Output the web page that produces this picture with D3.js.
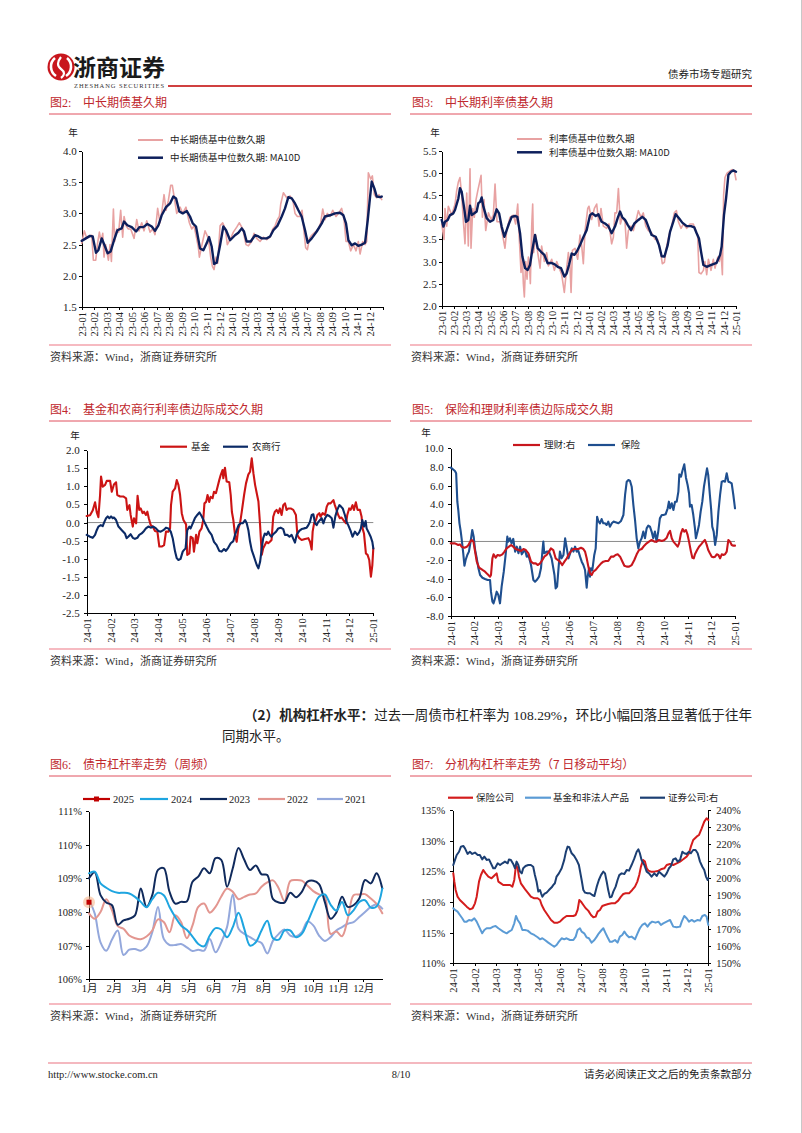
<!DOCTYPE html>
<html><head><meta charset="utf-8">
<script src="https://cdn.jsdelivr.net/npm/d3@7"></script>
<style>
body{margin:0;background:#fff;}
svg{display:block;}
text{font-family:"Liberation Serif","Noto Sans CJK SC",serif;fill:#222;}
.axis path,.axis line{stroke:#000;stroke-width:1;shape-rendering:crispEdges;}
.axis text{font-family:"Liberation Serif","Noto Sans CJK SC",serif;fill:#222;}
</style></head><body>
<script>
// ---------------- DATA ----------------
const labels2324 = ["23-01","23-02","23-03","23-04","23-05","23-06","23-07","23-08","23-09","23-10","23-11","23-12","24-01","24-02","24-03","24-04","24-05","24-06","24-07","24-08","24-09","24-10","24-11","24-12","25-01"];
const labels24 = ["24-01","24-02","24-03","24-04","24-05","24-06","24-07","24-08","24-09","24-10","24-11","24-12","25-01"];
const monthLabels = ["1月","2月","3月","4月","5月","6月","7月","8月","9月","10月","11月","12月"];

// Fig 2: [months since 2023-01, years]
const fig2Raw = [[0,2.52],[0.21,2.72],[0.40,2.60],[0.66,2.63],[0.80,2.65],[0.93,2.25],[1.12,2.25],[1.25,2.50],[1.41,2.70],[1.54,2.55],[1.68,2.68],[1.78,2.30],[1.91,2.50],[2.13,2.25],[2.26,2.50],[2.37,2.23],[2.53,3.07],[2.63,2.55],[2.79,2.75],[2.95,2.70],[3.11,3.05],[3.27,2.62],[3.38,2.95],[3.54,2.80],[3.72,2.75],[3.91,2.75],[4.18,2.60],[4.39,2.90],[4.57,2.72],[4.79,2.85],[4.97,2.72],[5.19,2.88],[5.45,2.70],[5.66,2.75],[5.85,2.66],[6.06,3.08],[6.25,2.85],[6.41,3.05],[6.57,3.30],[6.73,3.05],[6.91,3.20],[7.10,3.45],[7.23,3.45],[7.39,3.25],[7.58,3.00],[7.85,3.10],[8.06,3.00],[8.32,3.10],[8.59,2.85],[8.78,2.75],[8.96,2.80],[9.12,2.65],[9.31,2.45],[9.39,2.30],[9.65,2.55],[9.84,2.72],[10.11,2.60],[10.29,2.30],[10.43,2.15],[10.56,2.10],[10.72,2.30],[10.85,2.20],[11.04,2.80],[11.25,2.85],[11.46,2.75],[11.62,2.50],[11.89,2.60],[12.10,2.70],[12.37,2.78],[12.58,2.85],[12.85,2.75],[13.11,2.50],[13.30,2.48],[13.56,2.55],[13.75,2.68],[13.96,2.60],[14.23,2.55],[14.49,2.62],[14.76,2.58],[15.03,2.62],[15.24,2.75],[15.43,2.80],[15.61,2.90],[15.77,2.95],[15.88,3.15],[16.09,3.33],[16.36,3.25],[16.62,3.28],[16.84,3.22],[17.02,3.00],[17.21,2.95],[17.42,2.95],[17.58,3.05],[17.74,2.70],[17.87,2.45],[18.01,2.42],[18.17,2.60],[18.35,2.65],[18.62,2.70],[18.88,2.75],[19.07,2.85],[19.23,3.07],[19.41,2.90],[19.60,3.00],[19.81,2.95],[20.03,3.05],[20.29,2.95],[20.48,3.00],[20.74,3.08],[20.93,2.90],[21.09,2.55],[21.28,2.55],[21.46,2.40],[21.68,2.50],[21.89,2.40],[22.07,2.55],[22.21,2.35],[22.42,2.55],[22.61,2.50],[22.74,2.55],[22.87,3.65],[23.06,3.55],[23.19,3.60],[23.35,3.30],[23.54,3.25],[23.72,3.30],[23.94,3.22]];
const fig2MA = [[0,2.56],[0.66,2.64],[0.88,2.63],[1.14,2.37],[1.33,2.41],[1.60,2.60],[1.86,2.47],[2.07,2.36],[2.31,2.39],[2.58,2.57],[2.85,2.73],[3.19,2.76],[3.38,2.87],[3.64,2.81],[3.99,2.78],[4.34,2.71],[4.60,2.78],[4.92,2.78],[5.24,2.83],[5.59,2.79],[5.85,2.72],[6.12,2.81],[6.38,2.97],[6.73,3.10],[7.05,3.16],[7.31,3.27],[7.53,3.24],[7.79,3.03],[8.06,3.00],[8.38,3.04],[8.64,2.95],[8.86,2.84],[9.12,2.79],[9.44,2.44],[9.71,2.41],[9.97,2.52],[10.16,2.62],[10.37,2.47],[10.56,2.19],[10.77,2.21],[11.04,2.49],[11.30,2.79],[11.52,2.73],[11.84,2.57],[12.23,2.65],[12.50,2.69],[12.77,2.76],[12.95,2.71],[13.16,2.55],[13.48,2.55],[13.83,2.65],[14.10,2.63],[14.36,2.60],[14.76,2.60],[15.03,2.63],[15.29,2.73],[15.61,2.80],[15.96,2.95],[16.22,3.08],[16.49,3.26],[16.76,3.24],[17.02,3.16],[17.29,3.05],[17.55,2.95],[17.82,2.73],[18.03,2.53],[18.35,2.60],[18.75,2.71],[19.15,2.84],[19.41,2.95],[19.81,2.97],[20.21,3.00],[20.61,3.01],[20.88,2.97],[21.09,2.84],[21.28,2.57],[21.54,2.49],[21.81,2.52],[22.07,2.48],[22.34,2.50],[22.61,2.53],[22.82,2.89],[23.01,3.27],[23.14,3.51],[23.35,3.40],[23.54,3.27],[23.80,3.26],[23.94,3.27]];

// Fig 3: [months since 2023-01, years]
const fig3Raw = [[0,3.85],[0.19,3.50],[0.27,4.20],[0.41,3.80],[0.54,4.25],[0.82,4.05],[1.09,4.30],[1.22,4.60],[1.36,4.80],[1.49,4.90],[1.63,4.50],[1.77,3.90],[1.90,3.40],[2.04,4.55],[2.17,3.35],[2.31,5.10],[2.39,3.30],[2.53,4.20],[2.66,4.00],[2.80,4.40],[2.94,4.60],[3.21,4.95],[3.32,4.00],[3.45,4.40],[3.59,3.70],[3.81,4.10],[4.02,3.95],[4.21,4.05],[4.35,4.75],[4.51,3.90],[4.76,3.90],[5.03,3.50],[5.16,3.30],[5.30,3.70],[5.57,4.00],[5.84,4.05],[6.03,3.85],[6.20,4.30],[6.33,3.50],[6.47,2.75],[6.58,3.10],[6.66,2.50],[6.74,2.20],[6.85,3.00],[6.96,2.60],[7.07,3.10],[7.18,2.80],[7.23,2.50],[7.34,3.80],[7.42,4.30],[7.50,3.20],[7.67,3.60],[7.83,3.20],[8.02,2.85],[8.15,3.35],[8.37,3.00],[8.56,3.20],[8.70,2.90],[8.97,3.05],[9.19,2.80],[9.38,3.00],[9.65,2.80],[9.79,2.70],[10.00,2.30],[10.19,2.85],[10.33,3.20],[10.46,2.90],[10.55,2.30],[10.66,3.25],[10.87,3.30],[11.09,3.05],[11.28,3.60],[11.42,3.35],[11.55,2.95],[11.69,3.70],[11.91,4.20],[12.01,4.25],[12.23,3.95],[12.45,4.20],[12.64,4.30],[12.83,3.80],[12.99,4.20],[13.18,3.80],[13.45,3.75],[13.64,3.85],[13.86,3.40],[14.00,3.55],[14.13,4.10],[14.27,4.10],[14.41,4.65],[14.57,3.85],[14.73,4.00],[14.95,3.90],[15.08,3.30],[15.22,3.70],[15.44,3.80],[15.63,3.70],[15.82,3.90],[16.04,4.15],[16.25,4.00],[16.44,4.10],[16.64,3.80],[16.85,3.70],[17.12,3.65],[17.40,3.50],[17.61,3.50],[17.80,3.30],[17.99,2.95],[18.16,2.98],[18.35,3.35],[18.54,3.60],[18.75,3.80],[18.97,4.10],[19.14,4.15],[19.30,3.90],[19.52,3.75],[19.71,3.85],[19.98,3.75],[20.25,3.85],[20.52,3.85],[20.71,3.70],[20.87,3.60],[20.98,2.75],[21.15,2.72],[21.34,2.80],[21.47,3.00],[21.61,2.70],[21.75,3.05],[21.96,2.80],[22.15,3.05],[22.29,2.85],[22.51,3.10],[22.64,3.00],[22.78,3.20],[22.89,2.70],[22.99,4.50],[23.10,4.90],[23.27,5.00],[23.51,5.05],[23.70,5.08],[23.86,5.05],[24.00,4.85]];
const fig3MA = [[0,3.94],[0.14,3.79],[0.27,3.90],[0.49,3.94],[0.68,4.05],[0.95,4.09],[1.09,4.17],[1.36,4.43],[1.49,4.66],[1.63,4.58],[1.85,4.17],[1.98,3.90],[2.17,3.94],[2.31,4.26],[2.45,4.05],[2.66,4.09],[2.85,4.13],[2.99,4.32],[3.13,4.35],[3.26,4.45],[3.40,4.24],[3.67,3.98],[3.94,3.90],[4.21,3.94],[4.48,4.18],[4.68,4.09],[4.89,3.79],[5.11,3.56],[5.30,3.71],[5.49,3.86],[5.71,4.01],[5.98,4.03],[6.17,4.01],[6.39,3.64],[6.58,3.11],[6.80,2.85],[7.01,2.81],[7.20,2.92],[7.39,3.26],[7.61,3.60],[7.83,3.30],[8.10,3.22],[8.37,3.15],[8.64,2.96],[8.92,2.97],[9.19,2.94],[9.46,2.88],[9.73,2.85],[10.00,2.66],[10.19,2.73],[10.38,2.92],[10.60,3.18],[10.82,3.15],[11.01,3.22],[11.28,3.37],[11.55,3.55],[11.82,3.71],[12.10,4.05],[12.29,4.09],[12.56,4.03],[12.78,4.07],[13.04,3.90],[13.32,3.86],[13.59,3.80],[13.86,3.64],[14.13,3.79],[14.35,3.98],[14.54,4.13],[14.73,4.00],[14.95,3.94],[15.17,3.83],[15.44,3.71],[15.71,3.86],[16.04,3.94],[16.36,4.01],[16.64,3.94],[16.85,3.79],[17.12,3.60],[17.45,3.56],[17.72,3.37],[17.94,3.12],[18.16,3.11],[18.43,3.37],[18.62,3.67],[18.89,3.90],[19.08,4.07],[19.35,3.98],[19.62,3.88],[19.98,3.80],[20.33,3.80],[20.60,3.77],[20.79,3.64],[20.98,3.52],[21.15,3.22],[21.34,2.92],[21.61,2.88],[21.88,2.91],[22.15,2.94],[22.42,2.97],[22.70,3.15],[22.83,3.34],[23.02,4.05],[23.19,4.43],[23.38,4.96],[23.59,5.03],[23.78,5.06],[24.00,5.03]];

// Fig 4: [months since 2024-01, years]
const fig4Fund = [[0,0.18],[0.14,0.20],[0.25,0.33],[0.35,0.56],[0.42,0.29],[0.49,0.15],[0.56,0.76],[0.60,1.27],[0.67,0.99],[0.77,1.04],[0.84,1.15],[0.98,1.15],[1.05,0.85],[1.14,1.05],[1.23,1.11],[1.28,0.76],[1.40,0.72],[1.53,0.72],[1.65,0.67],[1.70,0.35],[1.79,0.48],[1.84,0.21],[1.93,-0.11],[1.98,0.12],[2.07,-0.02],[2.13,0.74],[2.20,0.35],[2.26,0.39],[2.34,0.26],[2.40,0.30],[2.48,0.21],[2.54,0.30],[2.60,0.12],[2.68,-0.07],[2.76,-0.11],[2.86,-0.23],[2.96,-0.25],[3.04,-0.66],[3.14,-0.66],[3.24,-0.62],[3.32,-0.25],[3.42,-0.25],[3.49,-0.16],[3.53,0.48],[3.60,0.85],[3.70,0.94],[3.77,1.17],[3.84,1.04],[3.91,0.76],[3.98,0.26],[4.05,0.07],[4.16,-0.05],[4.21,-0.89],[4.30,-0.85],[4.35,-0.39],[4.44,-0.43],[4.49,-0.80],[4.58,-0.34],[4.63,-0.57],[4.72,-0.25],[4.81,-0.16],[4.88,0.07],[4.93,0.53],[5.00,0.57],[5.06,0.76],[5.13,0.57],[5.19,0.71],[5.27,0.67],[5.33,0.85],[5.41,0.81],[5.48,0.99],[5.55,1.17],[5.61,1.31],[5.69,1.45],[5.72,1.22],[5.79,1.51],[5.86,1.13],[5.97,1.11],[6.03,0.76],[6.08,0.29],[6.14,0.07],[6.21,-0.34],[6.28,-0.53],[6.35,-0.16],[6.42,-0.02],[6.49,0.29],[6.59,0.76],[6.67,1.08],[6.77,1.33],[6.84,1.40],[6.91,1.77],[6.98,1.36],[7.05,1.04],[7.12,0.81],[7.19,0.58],[7.26,-0.07],[7.33,-0.89],[7.39,-0.71],[7.46,-0.62],[7.53,-0.53],[7.60,-0.57],[7.67,-0.53],[7.74,-0.48],[7.81,0.16],[7.88,0.30],[7.95,0.35],[8.02,0.26],[8.09,0.39],[8.16,0.21],[8.23,0.48],[8.30,0.53],[8.37,0.35],[8.44,0.39],[8.54,0.39],[8.65,0.35],[8.76,0.21],[8.82,-0.34],[8.90,-0.43],[9.00,-0.48],[9.14,-0.45],[9.28,-0.43],[9.35,-0.53],[9.42,-0.74],[9.46,-0.25],[9.52,-0.02],[9.60,0.07],[9.66,0.21],[9.74,0.26],[9.79,0.16],[9.88,0.26],[9.98,0.21],[10.05,0.44],[10.12,0.53],[10.21,0.53],[10.33,0.62],[10.39,0.48],[10.46,0.35],[10.53,0.21],[10.60,0.12],[10.67,0.14],[10.77,0.05],[10.86,-0.02],[10.91,0.21],[10.99,0.39],[11.05,0.35],[11.13,0.48],[11.19,0.35],[11.27,0.56],[11.34,0.35],[11.44,0.35],[11.51,0.16],[11.55,-0.16],[11.61,-0.30],[11.69,-0.85],[11.76,-0.89],[11.83,-1.03],[11.90,-1.49],[11.96,-1.17],[12.00,-0.71]];
const fig4Rural = [[0,-0.34],[0.14,-0.39],[0.25,-0.42],[0.35,-0.34],[0.42,-0.21],[0.49,-0.11],[0.59,-0.07],[0.67,-0.10],[0.74,0.02],[0.81,0.12],[0.88,0.17],[0.95,0.12],[1.02,0.17],[1.09,0.12],[1.14,0.14],[1.23,0.07],[1.33,-0.11],[1.47,-0.21],[1.60,-0.30],[1.67,-0.43],[1.74,-0.39],[1.84,-0.32],[1.93,-0.42],[2.02,-0.45],[2.12,-0.42],[2.20,-0.34],[2.30,-0.30],[2.40,-0.23],[2.48,-0.16],[2.58,-0.11],[2.68,-0.14],[2.79,-0.11],[2.90,-0.16],[3.00,-0.23],[3.10,-0.25],[3.21,-0.21],[3.32,-0.14],[3.42,-0.16],[3.52,-0.25],[3.60,-0.43],[3.70,-0.80],[3.77,-0.98],[3.84,-1.03],[3.93,-1.00],[4.02,-0.80],[4.07,-0.76],[4.14,-0.71],[4.21,-0.21],[4.30,-0.11],[4.35,-0.16],[4.44,-0.02],[4.53,0.12],[4.63,0.21],[4.72,0.28],[4.81,0.18],[4.91,0.04],[5.02,-0.11],[5.13,-0.25],[5.23,-0.34],[5.33,-0.53],[5.44,-0.62],[5.55,-0.78],[5.65,-0.80],[5.75,-0.73],[5.83,-0.78],[5.93,-0.69],[6.03,-0.57],[6.14,-0.51],[6.21,-0.34],[6.28,-0.21],[6.36,-0.07],[6.45,-0.02],[6.53,-0.02],[6.63,0.07],[6.70,-0.02],[6.77,-0.21],[6.84,-0.53],[6.91,-0.76],[6.98,-0.89],[7.05,-1.03],[7.12,-1.17],[7.19,-1.26],[7.26,-1.08],[7.33,-0.71],[7.39,-0.43],[7.46,-0.30],[7.53,-0.34],[7.60,-0.25],[7.67,-0.34],[7.74,-0.39],[7.81,-0.32],[7.93,-0.25],[8.02,-0.16],[8.12,-0.14],[8.23,-0.18],[8.30,-0.34],[8.40,-0.34],[8.49,-0.39],[8.58,-0.34],[8.65,-0.45],[8.72,-0.55],[8.79,-0.34],[8.90,-0.23],[9.00,-0.18],[9.10,-0.16],[9.21,-0.14],[9.28,-0.07],[9.35,0.02],[9.42,0.21],[9.49,0.23],[9.56,-0.02],[9.63,-0.07],[9.70,0.02],[9.77,0.07],[9.84,0.12],[9.91,-0.02],[9.98,0.12],[10.07,0.21],[10.16,0.18],[10.26,0.12],[10.33,-0.14],[10.41,0.17],[10.49,0.35],[10.58,0.48],[10.65,0.44],[10.72,0.39],[10.81,0.21],[10.88,0.02],[10.95,-0.07],[11.05,-0.23],[11.13,-0.39],[11.23,-0.25],[11.33,-0.34],[11.41,-0.27],[11.48,-0.16],[11.54,0.07],[11.61,-0.11],[11.68,0.04],[11.72,-0.16],[11.79,-0.25],[11.89,-0.39],[11.96,-0.53],[12.00,-0.71]];

// Fig 5: [months since 2024-01, years]
const fig5Insur = [[0,7.92],[0.08,7.78],[0.18,7.57],[0.23,7.32],[0.28,4.27],[0.32,3.38],[0.37,1.95],[0.42,1.13],[0.46,0.34],[0.53,-1.27],[0.58,-2.60],[0.63,-1.99],[0.70,-1.45],[0.77,-1.09],[0.84,-0.02],[0.91,1.23],[0.97,0.52],[1.03,-0.92],[1.10,-1.81],[1.17,-2.88],[1.24,-3.60],[1.34,-3.89],[1.45,-4.03],[1.56,-4.14],[1.66,-4.14],[1.70,-5.39],[1.76,-6.46],[1.81,-6.64],[1.87,-6.11],[1.94,-5.39],[2.01,-5.75],[2.08,-6.64],[2.15,-4.85],[2.24,-3.24],[2.32,-1.38],[2.39,0.52],[2.43,-0.02],[2.50,0.34],[2.57,-0.20],[2.64,0.27],[2.72,-1.09],[2.79,-0.56],[2.86,-1.27],[2.93,-0.56],[3.00,-1.38],[3.07,-1.09],[3.14,-0.92],[3.21,-1.63],[3.28,-1.45],[3.39,-2.53],[3.49,-4.14],[3.56,-4.32],[3.63,-4.14],[3.73,-3.78],[3.81,-2.88],[3.87,-1.09],[3.91,-0.02],[3.95,-1.27],[4.05,-1.09],[4.15,-1.09],[4.26,-1.81],[4.38,-3.60],[4.43,-5.03],[4.49,-4.85],[4.54,-3.24],[4.61,-1.09],[4.68,-1.81],[4.76,-1.45],[4.83,0.34],[4.90,-0.74],[4.97,-1.81],[5.04,-1.27],[5.11,-0.74],[5.18,-1.09],[5.25,-0.56],[5.32,-1.09],[5.39,-1.02],[5.46,-1.63],[5.53,-2.17],[5.60,-2.53],[5.67,-3.06],[5.74,-4.96],[5.78,-3.78],[5.84,-2.88],[5.88,-3.78],[5.92,-2.88],[5.98,-3.06],[6.06,-1.45],[6.12,-0.74],[6.18,2.66],[6.23,2.20],[6.30,1.95],[6.37,2.41],[6.44,1.95],[6.51,1.95],[6.58,1.77],[6.65,2.13],[6.72,1.59],[6.80,1.95],[6.87,2.13],[6.96,2.06],[7.08,1.95],[7.19,2.20],[7.29,2.84],[7.36,4.99],[7.43,6.42],[7.50,6.60],[7.57,6.49],[7.64,5.88],[7.71,3.92],[7.78,2.31],[7.85,0.34],[7.92,-0.74],[7.99,-0.02],[8.06,0.34],[8.13,1.06],[8.20,0.34],[8.27,1.41],[8.34,1.70],[8.41,1.59],[8.48,1.06],[8.55,0.34],[8.62,1.06],[8.69,-0.02],[8.76,1.06],[8.83,2.48],[8.91,2.84],[8.98,2.84],[9.07,2.91],[9.16,3.56],[9.21,4.27],[9.26,3.56],[9.33,4.09],[9.40,3.38],[9.47,4.27],[9.54,4.27],[9.61,5.35],[9.65,7.21],[9.72,6.96],[9.79,7.67],[9.86,8.28],[9.93,6.85],[10.00,6.06],[10.06,5.17],[10.10,3.74],[10.17,3.92],[10.24,2.84],[10.31,1.41],[10.35,0.34],[10.42,1.06],[10.48,1.77],[10.55,3.20],[10.62,4.27],[10.69,5.88],[10.76,6.96],[10.82,7.85],[10.87,7.14],[10.94,4.99],[10.99,3.56],[11.04,1.59],[11.10,1.06],[11.16,-0.38],[11.23,0.70],[11.30,3.20],[11.37,4.99],[11.44,6.42],[11.51,6.49],[11.58,6.42],[11.65,7.32],[11.72,6.42],[11.79,6.35],[11.86,6.24],[11.93,4.99],[12.00,3.56]];
const fig5Wealth = [[0,-0.20],[0.18,-0.20],[0.32,-0.38],[0.39,-0.31],[0.46,-0.56],[0.58,-0.67],[0.68,-0.56],[0.75,-0.38],[0.82,-0.02],[0.89,0.16],[0.96,-0.02],[1.03,-1.09],[1.10,-2.17],[1.20,-2.81],[1.34,-3.06],[1.45,-3.24],[1.56,-3.53],[1.66,-3.78],[1.70,-3.60],[1.76,-1.81],[1.81,-1.38],[1.90,-1.74],[1.98,-1.45],[2.08,-1.52],[2.18,-1.38],[2.27,-1.09],[2.36,-0.74],[2.46,-0.56],[2.55,-0.38],[2.64,-0.56],[2.74,-0.81],[2.86,-0.92],[2.97,-1.02],[3.07,-0.81],[3.17,-0.92],[3.28,-1.27],[3.39,-2.17],[3.49,-2.35],[3.59,-2.35],[3.67,-2.53],[3.77,-2.35],[3.87,-1.99],[3.95,-1.63],[4.05,-1.45],[4.15,-1.09],[4.23,-0.74],[4.33,-0.92],[4.43,-1.81],[4.52,-1.99],[4.61,-2.17],[4.71,-2.53],[4.80,-2.17],[4.90,-1.81],[4.99,-1.38],[5.08,-1.02],[5.18,-0.81],[5.28,-0.81],[5.39,-0.81],[5.50,-0.67],[5.60,-0.81],[5.67,-1.09],[5.74,-1.81],[5.81,-2.70],[5.88,-3.42],[5.95,-3.60],[6.02,-3.24],[6.12,-3.06],[6.23,-2.70],[6.35,-2.35],[6.44,-2.17],[6.54,-2.10],[6.65,-2.10],[6.77,-1.63],[6.87,-1.63],[6.96,-1.45],[7.05,-1.38],[7.15,-1.63],[7.25,-2.17],[7.33,-2.60],[7.43,-2.70],[7.53,-2.70],[7.64,-2.53],[7.75,-1.99],[7.85,-1.38],[7.95,-0.92],[8.06,-0.81],[8.17,-0.45],[8.27,-0.20],[8.37,-0.02],[8.48,0.16],[8.60,-0.02],[8.69,-0.02],[8.79,0.16],[8.91,0.05],[9.02,0.16],[9.12,0.41],[9.19,0.88],[9.26,1.13],[9.33,0.34],[9.40,-0.02],[9.50,-0.31],[9.58,-0.56],[9.64,-0.20],[9.72,0.88],[9.79,1.34],[9.86,1.06],[9.93,1.23],[10.00,0.70],[10.06,-0.02],[10.14,-1.09],[10.20,-1.74],[10.26,-1.81],[10.31,-1.38],[10.40,-0.92],[10.48,-0.56],[10.57,-0.31],[10.66,-0.02],[10.73,0.16],[10.80,-0.31],[10.87,-0.92],[10.94,-1.27],[11.02,-1.63],[11.09,-1.70],[11.16,-1.63],[11.23,-1.38],[11.30,-1.45],[11.37,-1.81],[11.44,-1.38],[11.51,-1.45],[11.58,-1.38],[11.65,-1.09],[11.72,0.16],[11.79,-0.02],[11.86,-0.38],[11.93,-0.45],[12.00,-0.45]];

// Fig 6: weekly leverage ratio (%), week 1..52
const fig6Y2024 = [109.15,109.20,108.85,108.72,108.62,108.57,108.57,108.55,108.45,108.30,108.14,108.38,108.57,108.50,108.15,107.85,107.60,107.47,107.27,107.05,106.98,107.30,107.52,107.48,107.25,107.55,107.98,107.50,107.00,107.10,107.45,107.74,107.22,107.18,107.45,107.45,107.25,107.35,107.70,108.10,108.45,108.52,108.22,108.04,108.30,107.90,108.05,108.30,108.35,108.13,108.16,108.70];
const fig6Y2023 = [109.00,109.18,108.50,108.28,108.20,107.62,107.75,107.80,107.90,108.70,108.15,108.50,109.25,109.30,108.60,108.25,108.30,108.31,108.90,109.05,109.30,109.15,109.60,109.55,108.75,109.30,109.90,109.55,109.25,109.38,109.12,109.10,108.38,108.28,108.28,108.57,108.44,108.60,108.90,108.93,108.83,108.30,107.80,107.98,108.45,108.15,108.20,108.40,108.95,108.85,109.15,108.70];
const fig6Y2022 = [107.96,107.80,108.00,108.38,108.05,107.58,107.50,107.30,107.22,107.19,107.27,107.45,107.78,107.70,107.40,107.90,107.70,107.22,107.60,108.15,108.25,107.98,108.15,108.46,108.70,108.60,108.38,108.45,108.52,108.55,108.75,108.88,108.94,108.70,108.32,108.92,108.95,108.93,108.78,108.62,108.52,108.45,107.35,107.42,107.28,107.80,108.50,108.52,108.53,108.40,108.24,107.96];
const fig6Y2021 = [108.36,107.95,107.10,106.85,107.18,107.45,106.72,106.88,106.90,106.85,106.97,107.40,108.15,107.20,107.02,107.02,107.05,106.95,106.84,106.88,106.85,107.20,106.80,107.10,107.55,108.52,107.50,107.35,107.25,107.15,107.08,106.77,107.15,107.35,107.48,107.30,107.27,107.40,107.72,107.60,107.30,107.14,107.25,107.45,107.55,107.65,107.70,107.85,108.00,108.15,108.22,108.10];
const fig6Y2025 = [108.29];

// Fig 7: [months since 2024-01, %]
const fig7Ins = [[0,124.67],[0.05,123.30],[0.11,121.96],[0.20,120.87],[0.31,120.33],[0.47,119.78],[0.63,119.24],[0.78,118.80],[0.91,118.97],[1.02,119.78],[1.10,120.87],[1.21,123.32],[1.30,124.40],[1.41,125.22],[1.52,124.67],[1.65,124.13],[1.80,123.86],[1.96,124.40],[2.04,124.67],[2.12,123.32],[2.24,123.04],[2.35,122.77],[2.51,122.77],[2.67,122.77],[2.78,122.50],[2.87,123.59],[2.95,126.03],[3.03,125.49],[3.09,124.13],[3.18,123.04],[3.29,122.50],[3.40,121.96],[3.53,121.41],[3.65,120.87],[3.81,120.60],[3.97,120.60],[4.08,120.33],[4.16,119.51],[4.28,118.70],[4.44,117.88],[4.60,117.07],[4.75,116.63],[4.91,116.63],[5.02,116.79],[5.18,117.34],[5.33,117.72],[5.49,117.72],[5.65,117.72],[5.76,117.88],[5.85,118.70],[5.93,120.33],[6.01,120.05],[6.12,119.51],[6.23,118.97],[6.35,118.59],[6.48,117.88],[6.59,117.50],[6.70,117.61],[6.79,118.42],[6.90,118.70],[7.01,119.35],[7.14,119.51],[7.29,119.67],[7.45,119.78],[7.61,119.78],[7.76,120.22],[7.89,120.87],[8.00,121.30],[8.11,121.41],[8.27,121.41],[8.42,121.96],[8.55,122.50],[8.66,123.32],[8.75,124.40],[8.83,125.76],[8.93,126.85],[9.02,126.58],[9.10,125.49],[9.18,125.11],[9.30,124.95],[9.46,124.95],[9.62,125.05],[9.77,125.33],[9.93,125.49],[10.04,126.03],[10.20,126.20],[10.35,126.03],[10.51,126.30],[10.67,126.58],[10.82,126.96],[10.98,127.39],[11.09,127.93],[11.18,129.02],[11.29,130.11],[11.45,130.65],[11.56,130.92],[11.69,132.01],[11.81,133.10],[11.92,133.64],[12.00,133.37]];
const fig7Fund = [[0,118.97],[0.08,118.70],[0.20,118.42],[0.31,117.88],[0.42,117.34],[0.52,116.79],[0.63,116.79],[0.74,117.07],[0.86,116.96],[0.99,117.34],[1.10,116.79],[1.21,115.98],[1.36,114.89],[1.46,115.43],[1.57,115.71],[1.73,115.71],[1.88,115.98],[1.99,116.09],[2.12,115.71],[2.24,115.43],[2.35,115.16],[2.51,114.89],[2.62,115.16],[2.75,115.43],[2.87,116.52],[2.95,117.72],[3.03,117.07],[3.14,116.52],[3.25,115.43],[3.37,115.43],[3.50,115.33],[3.65,114.89],[3.81,114.62],[3.97,114.24],[4.08,113.91],[4.19,114.08],[4.31,113.80],[4.47,113.37],[4.63,112.99],[4.75,112.72],[4.86,112.99],[4.97,113.53],[5.10,114.08],[5.22,113.91],[5.33,114.08],[5.49,113.80],[5.65,113.80],[5.76,114.35],[5.85,115.43],[5.96,115.71],[6.04,115.16],[6.16,114.89],[6.27,114.24],[6.38,114.08],[6.51,113.37],[6.64,113.80],[6.75,114.35],[6.85,114.89],[6.98,115.43],[7.06,115.71],[7.17,114.89],[7.26,114.24],[7.37,113.53],[7.48,113.53],[7.61,113.80],[7.73,113.37],[7.84,114.35],[7.95,114.62],[8.05,115.16],[8.16,114.62],[8.27,114.24],[8.39,114.35],[8.55,113.91],[8.67,114.89],[8.78,115.71],[8.89,116.25],[9.02,116.52],[9.14,115.98],[9.25,116.52],[9.36,116.79],[9.52,116.63],[9.65,116.79],[9.77,116.25],[9.88,116.52],[10.04,116.79],[10.20,117.07],[10.35,115.98],[10.51,115.87],[10.67,115.98],[10.75,116.79],[10.87,117.72],[10.98,117.34],[11.09,116.79],[11.22,117.07],[11.34,116.79],[11.50,117.07],[11.61,116.96],[11.72,117.72],[11.84,117.88],[11.92,117.61],[12.00,116.25]];
const fig7Sec = [[0,207.7],[0.08,210.7],[0.16,213.6],[0.27,215.5],[0.36,218.5],[0.47,218.9],[0.55,217.5],[0.67,214.2],[0.78,215.5],[0.89,214.2],[1.02,215.0],[1.15,213.6],[1.25,213.6],[1.36,211.0],[1.46,212.6],[1.57,210.7],[1.68,211.0],[1.77,208.7],[1.88,205.8],[1.96,205.8],[2.09,208.7],[2.20,207.7],[2.31,208.7],[2.43,209.7],[2.56,208.7],[2.62,211.0],[2.71,210.7],[2.82,208.3],[2.90,205.8],[2.98,209.7],[3.06,207.7],[3.14,203.8],[3.22,202.8],[3.29,205.8],[3.40,207.1],[3.53,207.7],[3.65,207.7],[3.76,206.7],[3.84,201.8],[3.92,197.9],[4.00,192.1],[4.08,193.0],[4.13,191.1],[4.19,189.1],[4.28,190.7],[4.39,191.5],[4.50,193.0],[4.63,194.6],[4.71,196.0],[4.78,197.0],[4.86,200.9],[4.97,202.8],[5.10,205.8],[5.22,210.7],[5.30,215.5],[5.38,218.5],[5.46,218.1],[5.57,214.6],[5.69,213.0],[5.80,210.7],[5.91,207.7],[6.04,198.9],[6.12,193.0],[6.20,191.5],[6.32,191.1],[6.43,191.1],[6.54,190.1],[6.64,189.5],[6.75,195.0],[6.85,198.9],[6.95,201.8],[7.06,203.8],[7.14,202.8],[7.22,197.9],[7.29,193.0],[7.37,188.7],[7.45,189.1],[7.53,192.1],[7.64,195.0],[7.73,198.9],[7.81,201.8],[7.92,202.8],[8.05,202.4],[8.16,204.8],[8.27,204.4],[8.39,207.7],[8.52,211.6],[8.63,215.5],[8.71,216.9],[8.78,214.6],[8.86,210.7],[8.99,207.7],[9.10,203.8],[9.21,202.8],[9.33,200.9],[9.46,202.8],[9.57,201.3],[9.68,203.8],[9.80,202.4],[9.93,200.9],[10.04,202.8],[10.15,205.8],[10.24,207.1],[10.35,211.0],[10.46,211.6],[10.56,209.7],[10.67,210.7],[10.78,215.5],[10.87,214.6],[10.98,214.2],[11.09,215.5],[11.18,214.6],[11.29,216.5],[11.40,216.5],[11.50,214.6],[11.61,209.7],[11.72,206.7],[11.81,204.8],[11.89,200.9],[11.97,198.9],[12.00,199.9]];

// ---------------- DRAW ----------------
const svg = d3.select("body").append("svg").attr("width",802).attr("height",1133);
const CJK = '"Noto Sans CJK SC",sans-serif';
const TITLE_RED = "#c0282d";

function txt(x,y,s,opt={}){
  const t = svg.append("text").attr("x",x).attr("y",y).text(s)
    .style("font-size",(opt.size||11)+"px");
  if(opt.anchor) t.attr("text-anchor",opt.anchor);
  if(opt.fill) t.style("fill",opt.fill);
  if(opt.family) t.style("font-family",opt.family);
  if(opt.weight) t.style("font-weight",opt.weight);
  if(opt.dy) t.attr("dy",opt.dy);
  return t;
}
function hline(x1,x2,y,color,w){
  svg.append("line").attr("x1",x1).attr("x2",x2).attr("y1",y).attr("y2",y)
    .attr("stroke",color).attr("stroke-width",w);
}

// header
svg.append("circle").attr("cx",61).attr("cy",67).attr("r",13.5).attr("fill","#c8161d");
svg.append("path").attr("d","M55,58 C49,63 50,72 56,76 M67,58 C73,63 72,72 66,76")
  .attr("stroke","#fff").attr("stroke-width",2.6).attr("fill","none");
svg.append("path").attr("d","M61,57 C57,62 57,66 61,69 C65,72 65,75 61,78")
  .attr("stroke","#fff").attr("stroke-width",2.2).attr("fill","none");
txt(73,76,"浙商证券",{size:23,family:CJK,weight:700,fill:"#1a1a1a"});
txt(74,88,"ZHESHANG SECURITIES",{size:6.5,fill:"#333"}).attr("textLength",90);
hline(168,752,86,"#c00000",1.5);
txt(752,78,"债券市场专题研究",{size:10.5,anchor:"end",family:CJK,fill:"#222"});

// titles
function title(x,y,num,s,lineX1,lineX2){
  txt(x,y,"图"+num+":",{size:12,fill:TITLE_RED});
  txt(x+33,y,s,{size:12,family:CJK,fill:TITLE_RED});
  hline(lineX1,lineX2,y+7,"#e0505e",1);
}
title(50,107,"2","中长期债基久期",49,391);
title(412,107,"3","中长期利率债基久期",410,752);
title(50,414,"4","基金和农商行利率债边际成交久期",49,391);
title(412,414,"5","保险和理财利率债边际成交久期",410,752);
title(50,769,"6","债市杠杆率走势（周频）",49,391);
title(412,769,"7","分机构杠杆率走势（7 日移动平均）",410,752);

// sources
function source(x,lineY,x2){
  hline(x-1,x2,lineY,"#f3a3ac",1.6);
  txt(x,lineY+16,"资料来源：Wind，浙商证券研究所",{size:11,fill:"#333"});
}
source(50,345,391); source(411,345,752);
source(50,649,391); source(411,649,752);
source(50,1004,391); source(411,1004,752);

// footer
hline(48,752,1063,"#f0a0aa",1.5);
txt(48,1078,"http://www.stocke.com.cn",{size:10.5,fill:"#222"});
txt(401,1078,"8/10",{size:10.5,anchor:"middle",fill:"#222"});
txt(752,1078,"请务必阅读正文之后的免责条款部分",{size:10.5,anchor:"end",family:CJK,fill:"#222"});
svg.append("line").attr("x1",801.5).attr("x2",801.5).attr("y1",0).attr("y2",1133).attr("stroke","#c8c8c8").attr("stroke-width",1);

// paragraph
const p1 = svg.append("text").attr("x",244).attr("y",720).style("font-size","13.5px");
p1.append("tspan").text("（2）机构杠杆水平：").style("font-weight","700").style("font-family",CJK);
p1.append("tspan").text("过去一周债市杠杆率为 108.29%，环比小幅回落且显著低于往年");
{
  const w = p1.node().getComputedTextLength();
  const n = p1.text().length;
  p1.style("letter-spacing",((508-w)/(n-1))+"px");
}
txt(222,741,"同期水平。",{size:13.5,family:CJK});

// generic panel
function panel(c){
  const x = d3.scaleLinear().domain(c.xDomain).range(c.xRange);
  const y = d3.scaleLinear().domain(c.yDomain).range(c.yRange);
  const g = svg.append("g");
  if(c.zero){
    g.append("line").attr("x1",c.xRange[0]).attr("x2",c.xRange[1]).attr("y1",y(0)).attr("y2",y(0))
      .attr("stroke","#8a8a8a").attr("stroke-width",1);
  }
  const ya = d3.axisLeft(y).tickValues(c.yTicks).tickFormat(c.yFmt).tickSize(3).tickSizeOuter(0).tickPadding(c.yPad||3);
  const gy = g.append("g").attr("class","axis").attr("transform",`translate(${c.xRange[0]},0)`).call(ya);
  gy.selectAll("text").style("font-size",(c.yFont||11)+"px");
  const xa = d3.axisBottom(x).tickValues(c.xTicks).tickFormat((d,i)=>c.xLabels[i]||"").tickSize(3).tickSizeOuter(0).tickPadding(2);
  const gx = g.append("g").attr("class","axis").attr("transform",`translate(0,${c.yRange[0]})`).call(xa);
  gx.selectAll("text").style("font-size",(c.xFont||10.5)+"px");
  if(c.rotate){
    gx.selectAll("text").attr("transform","rotate(-90)").attr("text-anchor","end")
      .attr("x",-5).attr("y",0).attr("dy","0.33em");
  }
  return {x,y,g};
}
function drawLine(p,data,color,w,curve,yScale){
  const ys = yScale||p.y;
  const ln = d3.line().x(d=>p.x(d[0])).y(d=>ys(d[1]));
  if(curve) ln.curve(curve);
  p.g.append("path").datum(data).attr("d",ln).attr("fill","none").attr("stroke",color)
    .attr("stroke-width",w).attr("stroke-linejoin","round").attr("stroke-linecap","round");
}
function legendLine(x1,x2,y,color,w,label,tx,size,family){
  hline(x1,x2,y,color,w);
  txt(tx,y,label,{size:size||9.5,family:family||CJK,dy:"0.35em",fill:"#222"});
}
const f1 = d=>d.toFixed(1);
const monthsIdx = d3.range(0,25);
const months12 = d3.range(0,13);

// Fig 2
{
  const p = panel({xDomain:[0,24],xRange:[81.7,382.5],yDomain:[1.5,4.0],yRange:[307,151],
    yTicks:[1.5,2.0,2.5,3.0,3.5,4.0],yFmt:f1,xTicks:monthsIdx,xLabels:labels2324.slice(0,24),rotate:true,yPad:2});
  drawLine(p,fig2Raw,"#e8a2a2",1.6);
  drawLine(p,fig2MA,"#0d1f5c",2.4);
  txt(73,136,"年",{size:9.5,family:CJK,anchor:"middle"});
  legendLine(138,163,140,"#e8a2a2",2,"中长期债基中位数久期",170);
  legendLine(138,163,157.7,"#0d1f5c",2.5,"中长期债基中位数久期: MA10D",170);
}
// Fig 3
{
  const p = panel({xDomain:[0,24],xRange:[441.7,736],yDomain:[2.0,5.5],yRange:[305.7,151],
    yTicks:[2.0,2.5,3.0,3.5,4.0,4.5,5.0,5.5],yFmt:f1,xTicks:monthsIdx,xLabels:labels2324,rotate:true,yPad:2});
  drawLine(p,fig3Raw,"#e8a2a2",1.6);
  drawLine(p,fig3MA,"#0d1f5c",2.4);
  txt(435,136,"年",{size:9.5,family:CJK,anchor:"middle"});
  legendLine(517,542,139,"#e8a2a2",2,"利率债基中位数久期",549);
  legendLine(517,542,152.3,"#0d1f5c",2.5,"利率债基中位数久期: MA10D",549);
}
// Fig 4
{
  const p = panel({xDomain:[0,12],xRange:[86.7,373.3],yDomain:[-2.5,2.0],yRange:[613.3,450],
    yTicks:d3.range(-2.5,2.01,0.5),yFmt:f1,xTicks:months12,xLabels:labels24,rotate:true,zero:true,yPad:4});
  drawLine(p,fig4Fund,"#cc1414",2.1);
  drawLine(p,fig4Rural,"#0b2a66",2.1);
  txt(75,439,"年",{size:9.5,family:CJK,anchor:"middle"});
  legendLine(160,187,446.7,"#cc1414",2.2,"基金",191);
  legendLine(223,248,446.7,"#0b2a66",2.2,"农商行",252);
}
// Fig 5
{
  const p = panel({xDomain:[0,12],xRange:[450.7,735],yDomain:[-8,10],yRange:[616,448.3],
    yTicks:d3.range(-8,10.01,2),yFmt:f1,xTicks:months12,xLabels:labels24,rotate:true,zero:true,yPad:4});
  drawLine(p,fig5Insur,"#1f4f8f",2.1);
  drawLine(p,fig5Wealth,"#c8161d",2.1);
  txt(426,436,"年",{size:9.5,family:CJK,anchor:"middle"});
  legendLine(513,540,445,"#c8161d",2.2,"理财:右",544);
  legendLine(588,615,445,"#1f4f8f",2.2,"保险",621);
}
// Fig 6
{
  const weekTicks = d3.range(0,12).map(m=>m*52/12);
  const p = panel({xDomain:[0,51],xRange:[89,382.3],yDomain:[106,111],yRange:[979.3,811],
    yTicks:[106,107,108,109,110,111],yFmt:d=>d+"%",yFont:10.5,xTicks:weekTicks,xLabels:monthLabels,yPad:4});
  const toPts = arr=>arr.map((v,i)=>[i,v]);
  const cr = d3.curveCatmullRom.alpha(0.5);
  drawLine(p,toPts(fig6Y2021),"#94a8dc",2,cr);
  drawLine(p,toPts(fig6Y2022),"#e39690",2,cr);
  drawLine(p,toPts(fig6Y2023),"#102a5c",2,cr);
  drawLine(p,toPts(fig6Y2024),"#1ea5e0",2,cr);
  const pts25 = toPts(fig6Y2025);
  p.g.selectAll(".glow").data(pts25).join("circle").attr("cx",d=>p.x(d[0])).attr("cy",d=>p.y(d[1]))
    .attr("r",6).attr("fill","#f7b98f").attr("opacity",0.6);
  p.g.selectAll(".m25").data(pts25).join("rect").attr("x",d=>p.x(d[0])-2.5).attr("y",d=>p.y(d[1])-2.5)
    .attr("width",5).attr("height",5).attr("fill","#c00000");
  // legend
  const ly = 799;
  hline(83,110,ly,"#c00000",2.2);
  svg.append("rect").attr("x",94).attr("y",ly-2.5).attr("width",5).attr("height",5).attr("fill","#c00000");
  txt(113,ly,"2025",{size:10.5,dy:"0.35em"});
  legendLine(140,168,ly,"#1ea5e0",2.2,"2024",171,10.5,'"Liberation Serif",serif');
  legendLine(200,227,ly,"#102a5c",2.2,"2023",229,10.5,'"Liberation Serif",serif');
  legendLine(258,285,ly,"#e39690",2.2,"2022",287,10.5,'"Liberation Serif",serif');
  legendLine(317,343,ly,"#94a8dc",2.2,"2021",345,10.5,'"Liberation Serif",serif');
}
// Fig 7
{
  const p = panel({xDomain:[0,12],xRange:[453.3,708.3],yDomain:[110,135],yRange:[963.3,810],
    yTicks:[110,115,120,125,130,135],yFmt:d=>d+"%",yFont:10.5,xTicks:months12,xLabels:labels24,rotate:true,yPad:5});
  const yR = d3.scaleLinear().domain([150,240]).range([963.3,810]);
  const ga = p.g.append("g").attr("class","axis").attr("transform","translate(708.3,0)")
    .call(d3.axisRight(yR).tickValues(d3.range(150,241,10)).tickFormat(d=>d+"%").tickSize(3).tickSizeOuter(0).tickPadding(5));
  ga.selectAll("text").style("font-size","10.5px");
  drawLine(p,fig7Ins,"#d41d1d",2);
  drawLine(p,fig7Fund,"#5b9bd5",2);
  drawLine(p,fig7Sec,"#1c3f73",2,null,yR);
  legendLine(448,473,797.7,"#d41d1d",2.2,"保险公司",476);
  legendLine(525,551,797.7,"#5b9bd5",2.2,"基金和非法人产品",553);
  legendLine(640,665,797.7,"#1c3f73",2.2,"证券公司:右",668);
}
</script></body></html>
